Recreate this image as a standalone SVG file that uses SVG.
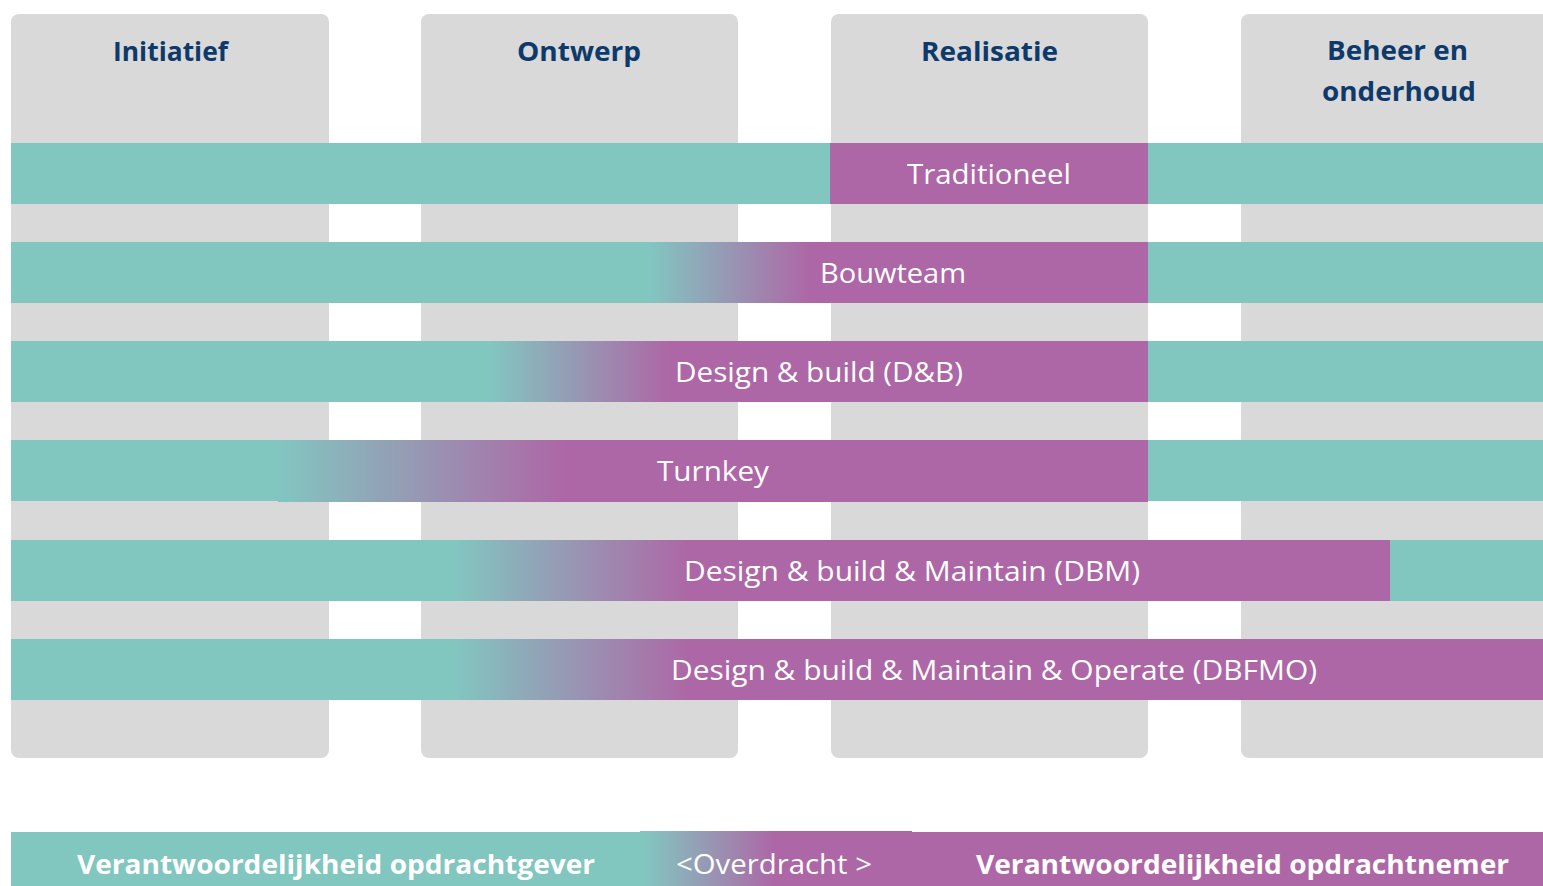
<svg xmlns="http://www.w3.org/2000/svg" width="1543" height="886" viewBox="0 0 1543 886">
<style>
.col{fill:#D9D9D9}
.teal{fill:#82C6C0}
.pur{fill:#AD67A6}
.hdr{font-family:"Open Sans","Liberation Sans",sans-serif;font-weight:700;font-size:27px;fill:#0E3A6B}
.lbl{font-family:"Open Sans","Liberation Sans",sans-serif;font-size:27px;fill:#FFFFFF}
.bold{font-weight:700}
</style>
<defs>
<linearGradient id="g2" gradientUnits="userSpaceOnUse" x1="650" y1="0" x2="810" y2="0"><stop offset="0" stop-color="#82C6C0"/><stop offset="1" stop-color="#AD67A6"/></linearGradient>
<linearGradient id="g3" gradientUnits="userSpaceOnUse" x1="490" y1="0" x2="670" y2="0"><stop offset="0" stop-color="#82C6C0"/><stop offset="1" stop-color="#AD67A6"/></linearGradient>
<linearGradient id="g4" gradientUnits="userSpaceOnUse" x1="278" y1="0" x2="565" y2="0"><stop offset="0" stop-color="#82C6C0"/><stop offset="1" stop-color="#AD67A6"/></linearGradient>
<linearGradient id="g5" gradientUnits="userSpaceOnUse" x1="455" y1="0" x2="690" y2="0"><stop offset="0" stop-color="#82C6C0"/><stop offset="1" stop-color="#AD67A6"/></linearGradient>
<linearGradient id="g6" gradientUnits="userSpaceOnUse" x1="455" y1="0" x2="690" y2="0"><stop offset="0" stop-color="#82C6C0"/><stop offset="1" stop-color="#AD67A6"/></linearGradient>
<linearGradient id="gb" gradientUnits="userSpaceOnUse" x1="645" y1="0" x2="775" y2="0"><stop offset="0" stop-color="#82C6C0"/><stop offset="1" stop-color="#AD67A6"/></linearGradient>
</defs>

<g id="col-initiatief"><rect class="col" x="11" y="14" width="318" height="744" rx="8"/><text class="hdr" x="113" y="61" textLength="115" lengthAdjust="spacingAndGlyphs">Initiatief</text></g>
<g id="col-ontwerp"><rect class="col" x="421" y="14" width="317" height="744" rx="8"/><text class="hdr" x="517" y="61" textLength="124" lengthAdjust="spacingAndGlyphs">Ontwerp</text></g>
<g id="col-realisatie"><rect class="col" x="831" y="14" width="317" height="744" rx="8"/><text class="hdr" x="921" y="61" textLength="137" lengthAdjust="spacingAndGlyphs">Realisatie</text></g>
<g id="col-beheer"><rect class="col" x="1241" y="14" width="320" height="744" rx="8"/><text class="hdr" x="1327" y="60" textLength="141" lengthAdjust="spacingAndGlyphs">Beheer en</text><text class="hdr" x="1322" y="101" textLength="154" lengthAdjust="spacingAndGlyphs">onderhoud</text></g>

<g id="row-traditioneel"><rect class="teal" x="11" y="143" width="1532" height="61"/><rect class="pur" x="830" y="143" width="318" height="61"/><text class="lbl" x="907" y="184" textLength="164" lengthAdjust="spacingAndGlyphs">Traditioneel</text></g>
<g id="row-bouwteam"><rect class="teal" x="11" y="242" width="1532" height="61"/><rect fill="url(#g2)" x="650" y="242" width="498" height="61"/><text class="lbl" x="820" y="283" textLength="146" lengthAdjust="spacingAndGlyphs">Bouwteam</text></g>
<g id="row-db"><rect class="teal" x="11" y="341" width="1532" height="61"/><rect fill="url(#g3)" x="490" y="341" width="658" height="61"/><text class="lbl" x="675" y="382" textLength="288" lengthAdjust="spacingAndGlyphs">Design &amp; build (D&amp;B)</text></g>
<g id="row-turnkey"><rect class="teal" x="11" y="440" width="1532" height="61"/><rect fill="url(#g4)" x="278" y="440" width="870" height="62"/><text class="lbl" x="657" y="481" textLength="112" lengthAdjust="spacingAndGlyphs">Turnkey</text></g>
<g id="row-dbm"><rect class="teal" x="11" y="540" width="1532" height="61"/><rect fill="url(#g5)" x="455" y="540" width="935" height="61"/><text class="lbl" x="684" y="581" textLength="456" lengthAdjust="spacingAndGlyphs">Design &amp; build &amp; Maintain (DBM)</text></g>
<g id="row-dbfmo"><rect class="teal" x="11" y="639" width="1532" height="61"/><rect fill="url(#g6)" x="455" y="639" width="1088" height="61"/><text class="lbl" x="671" y="680" textLength="646" lengthAdjust="spacingAndGlyphs">Design &amp; build &amp; Maintain &amp; Operate (DBFMO)</text></g>

<g id="legend"><rect class="teal" x="11" y="832" width="640" height="54"/><rect fill="url(#gb)" x="640" y="831" width="272" height="55"/><rect class="pur" x="911" y="832" width="632" height="54"/>
<text class="lbl bold" x="77" y="874" textLength="518" lengthAdjust="spacingAndGlyphs">Verantwoordelijkheid opdrachtgever</text>
<text class="lbl" x="676" y="874" textLength="196" lengthAdjust="spacingAndGlyphs">&lt;Overdracht &gt;</text>
<text class="lbl bold" x="976" y="874" textLength="533" lengthAdjust="spacingAndGlyphs">Verantwoordelijkheid opdrachtnemer</text></g>
<g id="connectors"/>
</svg>
